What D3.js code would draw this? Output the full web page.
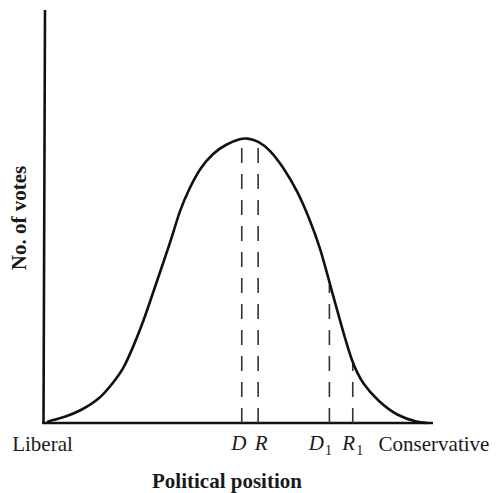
<!DOCTYPE html>
<html>
<head>
<meta charset="utf-8">
<script src="https://cdn.jsdelivr.net/npm/d3@7"></script>
<style>
  html, body { margin: 0; padding: 0; background: #fff; }
  svg { display: block; }
  text { font-family: "Liberation Serif", "Times New Roman", serif; fill: #1a1a1a; }
</style>
</head>
<body>
<svg id="chart" width="497" height="493"></svg>
<script>
// Distribution of voters along the political spectrum (0 = liberal, 100 = conservative)
const position = [0.9, 2.4, 5.5, 9.4, 14.5, 17.8, 20.4, 23.0, 25.5, 28.1, 30.7, 33.0, 35.0, 37.6,
                  40.2, 43.5, 47.1, 50.4, 52.2, 55.1, 58.2, 61.5, 65.1, 68.4, 71.0, 73.6, 76.1,
                  79.2, 82.0, 85.9, 90.8, 95.9, 98.5];
const votes    = [0.24, 0.73, 1.45, 2.9, 5.8, 9.7, 12.8, 18.4, 24.2, 31.5, 38.7, 45.0, 51.6, 57.1,
                  61.7, 65.4, 67.6, 68.8, 69.0, 68.3, 66.1, 62.0, 56.4, 49.2, 42.6, 33.4, 24.9,
                  14.5, 9.4, 5.3, 1.7, 0.24, 0.0];

// Party positions and the height of the curve above each of them
const partyLabels = ["D", "R", "D", "R"];
const partySubs   = ["", "", "1", "1"];
const partyPos    = [50.9, 55.1, 73.4, 79.4];
const partyVotes  = [68.8, 68.3, 33.4, 14.3];

const axisEnds  = ["Liberal", "Conservative"];
const xTitle = "Political position";
const yTitle = "No. of votes";

const svg = d3.select("#chart");
const x = d3.scaleLinear().domain([0, 100]).range([43.5, 433]);
const y = d3.scaleLinear().domain([0, 100]).range([423, 10]);

// Axes: plain lines without ticks
svg.append("line")
  .attr("x1", x(0)).attr("x2", x(0) + 1.5)
  .attr("y1", y(0) + 1).attr("y2", y(100))
  .attr("stroke", "#111").attr("stroke-width", 2.6);
svg.append("line")
  .attr("x1", x(0) - 1.3).attr("x2", x(100))
  .attr("y1", y(0)).attr("y2", y(0))
  .attr("stroke", "#111").attr("stroke-width", 2.6);

// Dashed verticals at each party position
svg.selectAll("line.party")
  .data(partyPos)
  .join("line")
  .attr("class", "party")
  .attr("x1", d => x(d)).attr("x2", d => x(d))
  .attr("y1", y(0)).attr("y2", (d, i) => y(partyVotes[i]))
  .attr("stroke", "#333").attr("stroke-width", 1.6)
  .attr("stroke-dasharray", "15,11");

// Vote distribution curve (B-spline through the sampled heights)
const pts = position.map((p, i) => [p, votes[i]]);
svg.append("path")
  .datum(pts)
  .attr("fill", "none")
  .attr("stroke", "#111")
  .attr("stroke-width", 2.6)
  .attr("stroke-linejoin", "round")
  .attr("d", d3.line().x(d => x(d[0])).y(d => y(d[1])).curve(d3.curveBasis));

// Axis end labels
svg.selectAll("text.end")
  .data(axisEnds)
  .join("text")
  .attr("class", "end")
  .attr("x", (d, i) => x(i * 100) + (i ? 1 : -1))
  .attr("y", 451)
  .attr("text-anchor", "middle")
  .attr("font-size", 21)
  .text(d => d);

// Party labels (italic, with optional subscript)
const labelShift = [-3, 3, -9, 0];
const pl = svg.selectAll("text.party")
  .data(partyLabels)
  .join("text")
  .attr("class", "party")
  .attr("x", (d, i) => x(partyPos[i]) + labelShift[i])
  .attr("y", 450)
  .attr("text-anchor", "middle")
  .attr("font-size", 21)
  .attr("font-style", "italic");
pl.append("tspan").text(d => d);
pl.append("tspan")
  .attr("font-style", "normal")
  .attr("font-size", 14)
  .attr("dx", 1)
  .attr("dy", 5)
  .text((d, i) => partySubs[i]);

// Axis titles
svg.append("text")
  .attr("x", 227).attr("y", 488)
  .attr("text-anchor", "middle")
  .attr("font-size", 21)
  .attr("font-weight", "bold")
  .text(xTitle);

svg.append("text")
  .attr("transform", "translate(26,218) rotate(-90)")
  .attr("text-anchor", "middle")
  .attr("font-size", 21)
  .attr("font-weight", "bold")
  .text(yTitle);
</script>
</body>
</html>
